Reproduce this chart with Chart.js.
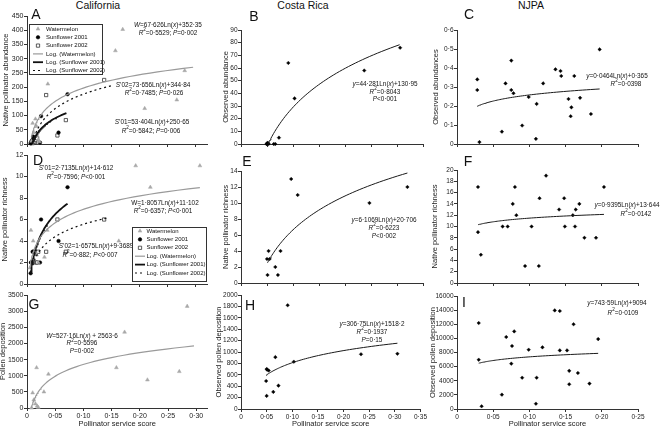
<!DOCTYPE html>
<html>
<head>
<meta charset="utf-8">
<title>Pollinator service score</title>
<script src="https://cdn.jsdelivr.net/npm/chart.js@4.4.1/dist/chart.umd.min.js"></script>
<style>
  html, body { margin: 0; padding: 0; background: #fff; }
  #wrap { position: relative; width: 660px; height: 428px; overflow: hidden; font-family: "Liberation Sans", Arial, sans-serif; color: #111; }
  #wrap canvas { position: absolute; }
  .lbl { position: absolute; transform: translate(-50%, -50%); white-space: nowrap; line-height: 1; }
  .head { font-size: 10.5px; }
  .let { font-size: 14px; }
</style>
</head>
<body>
<div id="wrap">
  <div class="lbl head" style="left:98px;top:5px">California</div>
  <div class="lbl head" style="left:303px;top:5px">Costa Rica</div>
  <div class="lbl head" style="left:531px;top:5px">NJPA</div>
</div>
<script>
// ---- California (A, D, G) ----
const wmXAbund = [0.008, 0.010, 0.012, 0.015, 0.017, 0.018, 0.020, 0.022, 0.037, 0.157, 0.170, 0.209, 0.266, 0.280];
const wmAbund  = [10, 73, 40, 88, 62, 30, 15, 8, 211, 328, 403, 125, 155, 258];
const wmXRich  = [0.005, 0.007, 0.011, 0.014, 0.017, 0.020, 0.031, 0.036, 0.163, 0.193, 0.219, 0.307];
const wmRich   = [1.5, 5, 4, 3, 2.7, 2, 2.5, 5, 4, 11, 9, 11];
const wmXPollen = [0.008, 0.010, 0.012, 0.015, 0.017, 0.018, 0.020, 0.030, 0.038, 0.1585, 0.173, 0.2135, 0.270, 0.284];
const wmPollen  = [0, 470, 250, 130, 1250, 60, 20, 500, 1050, 1250, 2350, 870, 1130, 3150];

const sf01X     = [0.0065, 0.007, 0.008, 0.010, 0.011, 0.023, 0.025, 0.056, 0.072];
const sf01Abund = [2, 5, 10, 15, 26, 5, 98, 40, 175];
const sf01Rich  = [1, 2, 2, 3, 3, 2, 6, 4, 9];

const sf02X     = [0.010, 0.013, 0.016, 0.018, 0.020, 0.034, 0.054, 0.069, 0.137];
const sf02Abund = [3, 8, 14, 20, 5, 172, 30, 84, 225];
const sf02Rich  = [2, 3, 2, 2, 3, 3, 6, 3, 6];

// ---- Costa Rica (B, E, H) ----
const crXAbund = [0.049, 0.051, 0.053, 0.050, 0.063, 0.066, 0.073, 0.091, 0.103, 0.237, 0.306, 0.052];
const crAbund  = [0, 1, 0, 0, 0, 0, 5, 64, 36, 58, 76, 0.5];
const crXRich  = [0.053, 0.050, 0.055, 0.051, 0.066, 0.076, 0.071, 0.0965, 0.109, 0.247, 0.320];
const crRich   = [4, 3, 3, 1, 2, 4, 1, 13, 11, 10, 12];
const crXPollen = [0.050, 0.051, 0.054, 0.049, 0.050, 0.063, 0.073, 0.067, 0.091, 0.103, 0.234, 0.305];
const crPollen  = [700, 690, 675, 490, 230, 300, 410, 910, 1820, 830, 960, 970];

// ---- NJPA (C, F, I) ----
const njXAbund = [0.028, 0.028, 0.031, 0.062, 0.067, 0.075, 0.075, 0.078, 0.090, 0.099, 0.109, 0.110, 0.119, 0.136, 0.143, 0.144, 0.154, 0.157, 0.158, 0.162, 0.170, 0.185, 0.197];
const njAbund  = [0.340, 0.284, 0.010, 0.065, 0.319, 0.439, 0.284, 0.267, 0.097, 0.247, 0.027, 0.211, 0.319, 0.393, 0.384, 0.358, 0.237, 0.146, 0.193, 0.358, 0.243, 0.158, 0.498];
const njXRich  = [0.029, 0.029, 0.033, 0.063, 0.070, 0.077, 0.080, 0.082, 0.094, 0.103, 0.113, 0.114, 0.123, 0.141, 0.148, 0.149, 0.160, 0.163, 0.164, 0.169, 0.176, 0.192, 0.203];
const njRich   = [17, 9, 5, 10, 10, 14, 17, 12, 3, 10, 3, 15, 19, 13, 15, 10, 12, 10, 13, 14, 8, 8, 17];
const njXPollen = [0.030, 0.030, 0.034, 0.062, 0.068, 0.075, 0.076, 0.079, 0.090, 0.099, 0.109, 0.110, 0.118, 0.135, 0.142, 0.142, 0.152, 0.155, 0.155, 0.161, 0.167, 0.183, 0.195];
const njPollen  = [12170, 6980, 380, 2030, 10190, 6420, 8920, 10990, 4430, 8400, 750, 4430, 8730, 13960, 13870, 8300, 8300, 5400, 3500, 12000, 5100, 3600, 9900];

// fitted log trend lines as printed on the chart: y = a*Ln(x) + b, drawn over the x span seen in the picture
const fitAwm = [67.626, 352.35],  spanAwm = [0.008, 0.295];
const fitAs01 = [53.404, 250.65], spanAs01 = [0.009, 0.070];
const fitAs02 = [73.656, 344.84], spanAs02 = [0.010, 0.150];
const fitDwm = [1.8057, 11.102],  spanDwm = [0.005, 0.307];
const fitDs01 = [2.7135, 14.612], spanDs01 = [0.0066, 0.072];
const fitDs02 = [1.6575, 9.3689], spanDs02 = [0.010, 0.141];
const fitGwm = [527.16, 2563.6],  spanGwm = [0.0078, 0.296];
const fitB = [44.281, 130.95], spanB = [0.051, 0.305];
const fitE = [6.1069, 20.706], spanE = [0.051, 0.320];
const fitH = [306.75, 1518.2], spanH = [0.049, 0.305];
const fitC = [0.0464, 0.365],  spanC = [0.028, 0.197];
const fitF = [0.9395, 13.644], spanF = [0.029, 0.203];
const fitI = [743.59, 9094],   spanI = [0.030, 0.195];

// x tick values
const xTicksCal = [0, 0.05, 0.10, 0.15, 0.20, 0.25, 0.30];
const xTicksCR  = [0, 0.05, 0.10, 0.15, 0.20, 0.25, 0.30, 0.35];
const xTicksNJ  = [0, 0.05, 0.10, 0.15, 0.20, 0.25];

const FONT = '"Liberation Sans", Arial, sans-serif';
Chart.defaults.font.family = FONT;

const styles = {
  wm:   {pointStyle: 'triangle', pointRadius: 2.2, pointBackgroundColor: '#a8a8a8', pointBorderColor: '#a8a8a8', pointBorderWidth: 0.5},
  s01:  {pointStyle: 'circle', pointRadius: 1.8, pointBackgroundColor: '#000', pointBorderColor: '#000', pointBorderWidth: 0.5},
  s02:  {pointStyle: 'rect', pointRadius: 2.3, pointBackgroundColor: '#fff', pointBorderColor: '#333', pointBorderWidth: 0.8},
  site: {pointStyle: 'rectRot', pointRadius: 1.8, pointBackgroundColor: '#000', pointBorderColor: '#000', pointBorderWidth: 0.4}
};
const lines = {
  wm:  {borderColor: '#9a9a9a', borderWidth: 1.2},
  s01: {borderColor: '#111', borderWidth: 1.8},
  s02: {borderColor: '#111', borderWidth: 1.2, borderDash: [2, 3]},
  one: {borderColor: '#1a1a1a', borderWidth: 1}
};

function logFit(coef, span) {
  const lo = span[0], hi = span[1], n = 60, out = [];
  for (let i = 0; i <= n; i++) {
    const x = lo * Math.pow(hi / lo, i / n);
    out.push({x: x, y: coef[0] * Math.log(x) + coef[1]});
  }
  return out;
}
function pts(xs, ys) { return xs.map((x, i) => ({x: x, y: ys[i]})); }
function dec(v, d) { return v === 0 ? '0' : v.toFixed(d).replace('.', '\u00b7'); }

// draw a line of text: _italic_ and ^2 superscript
function richText(ctx, str, x, y, size) {
  const segs = str.split(/(_[^_]+_|\^\d)/).filter(s => s).map(s => {
    if (s[0] === '_') return {t: s.slice(1, -1), f: 'italic ' + size + 'px ' + FONT, dy: 0};
    if (s[0] === '^') return {t: s.slice(1), f: (size * 0.72) + 'px ' + FONT, dy: -size * 0.45};
    return {t: s, f: size + 'px ' + FONT, dy: 0};
  });
  let w = 0;
  segs.forEach(g => { ctx.font = g.f; g.w = ctx.measureText(g.t).width; w += g.w; });
  let px = x - w / 2;
  ctx.textAlign = 'left';
  segs.forEach(g => { ctx.font = g.f; ctx.fillText(g.t, px, y + g.dy); px += g.w; });
}

const legendRows = [
  ['pt', 'wm', 'Watermelon'], ['pt', 's01', 'Sunflower 2001'], ['pt', 's02', 'Sunflower 2002'],
  ['ln', 'wm', 'Log. (Watermelon)'], ['ln', 's01', 'Log. (Sunflower 2001)'], ['ln', 's02', 'Log. (Sunflower 2002)']
];

const cols = [[-2, 212], [212, 428], [428, 660]];
const rows = [[0, 150], [150, 290], [290, 428]];
const tickSize = [7, 6.5, 6.5];

const panels = [
  {letter: 'A', lx: 36, ly: 14, col: 0, row: 0, tx: 6, area: [27, 16, 211, 144], xMax: 0.32, xTicks: xTicksCal, yMax: 450, yStep: 50, yDec: 0,
   yTitle: 'Native pollinator abundance',
   series: [[wmXAbund, wmAbund, 'wm'], [sf01X, sf01Abund, 's01'], [sf02X, sf02Abund, 's02']],
   fits: [[fitAwm, spanAwm, 'wm'], [fitAs01, spanAs01, 's01'], [fitAs02, spanAs02, 's02']],
   texts: [[168, 25, '_W_=67\u00b7626Ln(_x_)+352\u00b735'], [168, 33, '_R_^2=0\u00b75529; _P_=0\u00b7002'],
           [153, 85, '_S_\u201902=73\u00b7656Ln(_x_)+344\u00b784'], [154, 93, '_R_^2=0\u00b77485; _P_=0\u00b7026'],
           [152, 122, '_S_\u201901=53\u00b7404Ln(_x_)+250\u00b765'], [151, 131, '_R_^2=0\u00b75842; _P_=0\u00b7006']],
   legend: {box: [29, 24, 102, 74], y0: 29, dy: 8.3, sx: 38, tx: 46}},
  {letter: 'B', lx: 254, ly: 16, col: 1, row: 0, tx: 225.5, area: [241, 30, 423, 144], xMax: 0.35, xTicks: xTicksCR, yMax: 90, yStep: 10, yDec: 0,
   yTitle: 'Observed abundance',
   series: [[crXAbund, crAbund, 'site']], fits: [[fitB, spanB, 'one']],
   texts: [[385, 84, '_y_=44\u00b7281Ln(_x_)+130\u00b795'], [385, 92, '_R_^2=0\u00b78043'], [385, 99, '_P_<0\u00b7001']]},
  {letter: 'C', lx: 469, ly: 14, col: 2, row: 0, tx: 436, area: [457, 30, 638, 144], xMax: 0.25, xTicks: xTicksNJ, yMax: 0.6, yStep: 0.1, yDec: 1,
   yTitle: 'Observed abundances',
   series: [[njXAbund, njAbund, 'site']], fits: [[fitC, spanC, 'one']],
   texts: [[617, 76, '_y_=0\u00b70464Ln(_x_)+0\u00b7365'], [626, 84, '_R_^2=0\u00b70398']]},
  {letter: 'D', lx: 38, ly: 160, col: 0, row: 1, tx: 5, area: [27, 155, 211, 284], xMax: 0.32, xTicks: xTicksCal, yMax: 12, yStep: 2, yDec: 0,
   yTitle: 'Native pollinator richness',
   series: [[wmXRich, wmRich, 'wm'], [sf01X, sf01Rich, 's01'], [sf02X, sf02Rich, 's02']],
   fits: [[fitDwm, spanDwm, 'wm'], [fitDs01, spanDs01, 's01'], [fitDs02, spanDs02, 's02']],
   texts: [[76, 168, '_S_\u201901=2\u00b77135Ln(_x_)+14\u00b7612'], [76, 177, '_R_^2=0\u00b77596; _P_<0\u00b7001'],
           [165, 203, 'W=1\u00b78057Ln(_x_)+11\u00b7102'], [163, 211, '_R_^2=0\u00b76357; _P_<0\u00b7001'],
           [96, 246, '_S_\u201902=1\u00b76575Ln(_x_)+9\u00b73689'], [90, 255, '_R_^2=0\u00b7882; _P_<0\u00b7007']],
   legend: {box: [132, 227, 206, 281], y0: 231, dy: 8.4, sx: 140, tx: 146.5}},
  {letter: 'E', lx: 247, ly: 161, col: 1, row: 1, tx: 225.5, area: [241, 171, 423, 283], xMax: 0.35, xTicks: xTicksCR, yMax: 14, yStep: 2, yDec: 0,
   yTitle: 'Native pollinator richness',
   series: [[crXRich, crRich, 'site']], fits: [[fitE, spanE, 'one']],
   texts: [[384, 220, '_y_=6\u00b71069Ln(_x_)+20\u00b7706'], [384, 228, '_R_^2=0\u00b76223'], [384, 236, '_P_<0\u00b7002']]},
  {letter: 'F', lx: 468, ly: 161, col: 2, row: 1, tx: 435, area: [457, 170, 638, 283], xMax: 0.25, xTicks: xTicksNJ, yMax: 20, yStep: 2, yDec: 0,
   yTitle: 'Native pollinator richness',
   series: [[njXRich, njRich, 'site']], fits: [[fitF, spanF, 'one']],
   texts: [[627, 205, '_y_=0\u00b79395Ln(_x_)+13\u00b7644'], [636, 214, '_R_^2=0\u00b70142']]},
  {letter: 'G', lx: 34, ly: 304, col: 0, row: 2, tx: 3, area: [27, 295, 211, 408], xMax: 0.32, xTicks: xTicksCal, yMax: 3500, yStep: 500, yDec: 0,
   yTitle: 'Pollen deposition', xTitle: 'Pollinator service score',
   series: [[wmXPollen, wmPollen, 'wm']], fits: [[fitGwm, spanGwm, 'wm']],
   texts: [[82, 336, '_W_=527\u00b716Ln(_x_) + 2563\u00b76'], [82, 343.5, '_R_^2=0\u00b75596'], [82, 351, '_P_=0\u00b7002']]},
  {letter: 'H', lx: 250, ly: 305, col: 1, row: 2, tx: 218.5, area: [241, 295, 423, 409], xMax: 0.35, xTicks: xTicksCR, yMax: 2000, yStep: 200, yDec: 0,
   yTitle: 'Observed pollen deposition', xTitle: 'Pollinator service score',
   series: [[crXPollen, crPollen, 'site']], fits: [[fitH, spanH, 'one']],
   texts: [[372, 324, '_y_=306\u00b775Ln(_x_)+1518\u00b72'], [372, 332, '_R_^2=0\u00b71937'], [372, 340, '_P_=0\u00b715']]},
  {letter: 'I', lx: 464, ly: 302, col: 2, row: 2, tx: 433, area: [457, 296, 638, 409], xMax: 0.25, xTicks: xTicksNJ, yMax: 16000, yStep: 2000, yDec: 0,
   yTitle: 'Observed pollen deposition', xTitle: 'Pollinator service score',
   series: [[njXPollen, njPollen, 'site']], fits: [[fitI, spanI, 'one']],
   texts: [[617, 303, '_y_=743\u00b759Ln(_x_)+9094'], [623, 313, '_R_^2=0\u00b70109']]}
];

const wrap = document.getElementById('wrap');

function drawLegend(ctx, lg, ox, oy) {
  const b = lg.box;
  ctx.fillStyle = '#fff';
  ctx.fillRect(b[0] - ox, b[1] - oy, b[2] - b[0], b[3] - b[1]);
  ctx.strokeStyle = '#333';
  ctx.lineWidth = 1;
  ctx.strokeRect(b[0] - ox + 0.5, b[1] - oy + 0.5, b[2] - b[0], b[3] - b[1]);
  legendRows.forEach((r, i) => {
    const y = lg.y0 + i * lg.dy - oy;
    if (r[0] === 'pt') {
      const s = styles[r[1]];
      ctx.fillStyle = s.pointBackgroundColor;
      ctx.strokeStyle = s.pointBorderColor;
      ctx.lineWidth = s.pointBorderWidth;
      Chart.helpers.drawPoint(ctx, {pointStyle: s.pointStyle, radius: s.pointRadius, rotation: 0, borderWidth: s.pointBorderWidth}, lg.sx - ox, y);
    } else {
      const l = lines[r[1]];
      ctx.strokeStyle = l.borderColor;
      ctx.lineWidth = l.borderWidth;
      ctx.setLineDash(l.borderDash || []);
      ctx.beginPath();
      ctx.moveTo(lg.sx - 5 - ox, y);
      ctx.lineTo(lg.sx + 5 - ox, y);
      ctx.stroke();
      ctx.setLineDash([]);
    }
    ctx.fillStyle = '#111';
    ctx.font = '6px ' + FONT;
    ctx.textAlign = 'left';
    ctx.textBaseline = 'middle';
    ctx.fillText(r[2], lg.tx - ox, y);
  });
}

panels.forEach(p => {
  const cx = cols[p.col][0], cw = cols[p.col][1] - cx;
  const cy = rows[p.row][0], ch = rows[p.row][1] - cy;
  const padL = p.tx - 4.5 - cx;
  const yW = p.area[0] - cx - padL;
  const xH = cy + ch - p.area[3];
  const fs = tickSize[p.col];
  const cv = document.createElement('canvas');
  cv.width = cw; cv.height = ch;
  cv.style.left = cx + 'px'; cv.style.top = cy + 'px';
  wrap.appendChild(cv);

  const lt = document.createElement('div');
  lt.className = 'lbl let';
  lt.style.left = p.lx + 'px'; lt.style.top = p.ly + 'px';
  lt.textContent = p.letter;
  wrap.appendChild(lt);

  const datasets = [];
  p.fits.forEach(f => {
    datasets.push(Object.assign({data: logFit(f[0], f[1]), showLine: true, pointRadius: 0, tension: 0}, lines[f[2]]));
  });
  p.series.forEach(s => {
    datasets.push(Object.assign({data: pts(s[0], s[1]), showLine: false, clip: false}, styles[s[2]]));
  });

  new Chart(cv, {
    type: 'scatter',
    data: {datasets: datasets},
    options: {
      responsive: false,
      animation: false,
      events: [],
      layout: {padding: {left: padL, top: p.area[1] - cy, right: cx + cw - p.area[2], bottom: 0}},
      plugins: {legend: {display: false}, tooltip: {enabled: false}},
      scales: {
        x: {
          type: 'linear', min: 0, max: p.xMax,
          border: {color: '#333', width: 1},
          grid: {drawOnChartArea: false, drawTicks: true, tickLength: 3, color: '#333'},
          ticks: {display: !!p.xTitle, padding: 1, color: '#222', font: {size: fs}, maxRotation: 0, autoSkip: false,
                  callback: v => dec(v, 2)},
          afterBuildTicks: s => { s.ticks = p.xTicks.map(v => ({value: v})); },
          afterFit: s => { s.height = xH; },
          title: {display: !!p.xTitle, text: p.xTitle, padding: 0, color: '#222', font: {size: 7.5}}
        },
        y: {
          type: 'linear', min: 0, max: p.yMax,
          border: {color: '#333', width: 1},
          grid: {drawOnChartArea: false, drawTicks: true, tickLength: 3, color: '#333'},
          ticks: {stepSize: p.yStep, padding: 0.5, color: '#222', font: {size: fs}, autoSkip: false,
                  callback: v => dec(v, p.yDec)},
          afterFit: s => { s.width = yW; },
          title: {display: true, text: p.yTitle, padding: 0, color: '#222', font: {size: 7.5}}
        }
      }
    },
    plugins: [{
      id: 'notes' + p.letter,
      afterDatasetsDraw(chart) {
        const ctx = chart.ctx;
        ctx.save();
        ctx.fillStyle = '#111';
        ctx.textBaseline = 'middle';
        p.texts.forEach(t => richText(ctx, t[2], t[0] - cx, t[1] - cy, 6.4));
        if (p.legend) drawLegend(ctx, p.legend, cx, cy);
        ctx.restore();
      }
    }]
  });
});
</script>
</body>
</html>
